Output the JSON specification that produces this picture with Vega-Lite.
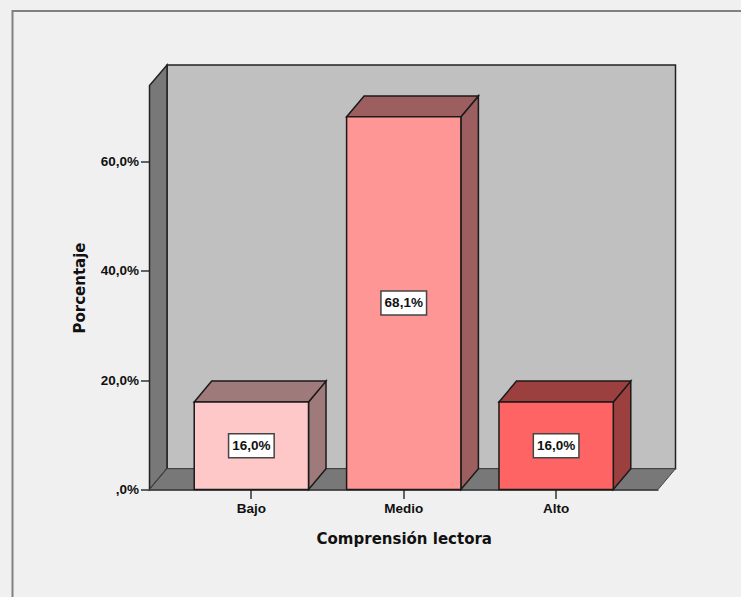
{
"$schema":"https://vega.github.io/schema/vega-lite/v6.json",
"width":508.5,"height":404,
"autosize":{"type":"none"},
"padding":{"left":149.5,"top":85.5,"right":83,"bottom":107.5},
"background":"#f0f0f0",
"view":{"stroke":null},
"config":{"axis":{"labelFont":"Liberation Sans","labelFontWeight":"bold","labelFontSize":13.5,"labelColor":"#111","titleFont":"DejaVu Sans","titleFontWeight":"bold","titleFontSize":15,"titleColor":"#111","grid":false,"domainColor":"#222","domainWidth":1.5,"tickColor":"#333","tickWidth":1.5,"tickSize":9,"zindex":1}},
"data":{"values":[{"cat":"Bajo","pct":16.0,"label":"16,0%"},{"cat":"Medio","pct":68.1,"label":"68,1%"},{"cat":"Alto","pct":16.0,"label":"16,0%"}]},
"encoding":{
"x":{"field":"cat","type":"nominal","sort":["Bajo","Medio","Alto"],"title":"Comprensión lectora","scale":{"paddingInner":0.25,"paddingOuter":0.2935,"round":false},"axis":{"labelAngle":0,"labelPadding":3,"titlePadding":16}},
"y":{"field":"pct","type":"quantitative","title":"Porcentaje","scale":{"domain":[0,73.8],"nice":false},"axis":{"values":[0,20,40,60],"labelExpr":"datum.value==0?',0%':datum.value+',0%'","labelPadding":2,"titlePadding":13}}
},
"layer":[
{"data":{"values":[{"cat":"Medio","pct":0}]},"mark":{"type":"point","size":4,"opacity":1,"filled":false,"stroke":"#808080","strokeWidth":2,"shape":"M-391.25 107.5V-478.5H337.25"}},
{"data":{"values":[{"cat":"Medio","pct":0}]},"mark":{"type":"point","size":4,"opacity":1,"filled":true,"fill":"#c0c0c0","stroke":"#222","strokeWidth":1.5,"shape":"M-236.75 -20.8V-424.5H271.75V-20.8Z"}},
{"data":{"values":[{"cat":"Medio","pct":0}]},"mark":{"type":"point","size":4,"opacity":1,"filled":true,"fill":"#787878","stroke":"#222","strokeWidth":1.5,"shape":"M-254.25 0V-404L-236.75 -424.5V-20.8Z"}},
{"data":{"values":[{"cat":"Medio","pct":0}]},"mark":{"type":"point","size":4,"opacity":1,"filled":true,"fill":"#787878","stroke":"#444","strokeWidth":1,"shape":"M-254.25 0L-236.75 -20.8H271.75L254.25 0Z"}},
{"mark":{"type":"point","size":4,"opacity":1,"filled":true,"stroke":"#1a1a1a","strokeWidth":1.5},"encoding":{
"shape":{"field":"cat","type":"nominal","legend":null,"scale":{"domain":["Bajo","Medio","Alto"],"range":["M57.15 0L74.65 -20.8V66.8L57.15 87.6Z","M57.15 0L74.65 -20.8V352L57.15 372.8Z","M57.15 0L74.65 -20.8V66.8L57.15 87.6Z"]}},
"fill":{"field":"cat","type":"nominal","legend":null,"scale":{"domain":["Bajo","Medio","Alto"],"range":["#9e7a7a","#9c5e5e","#9c3f3f"]}}}},
{"mark":{"type":"point","size":4,"opacity":1,"filled":true,"stroke":"#1a1a1a","strokeWidth":1.5,"shape":"M-57.15 0L57.15 0L74.65 -20.8H-39.65Z"},"encoding":{
"fill":{"field":"cat","type":"nominal","legend":null,"scale":{"domain":["Bajo","Medio","Alto"],"range":["#9e7a7a","#9c5e5e","#9c3f3f"]}}}},
{"mark":{"type":"bar","stroke":"#1a1a1a","strokeWidth":1.5},"encoding":{
"color":{"field":"cat","type":"nominal","legend":null,"scale":{"domain":["Bajo","Medio","Alto"],"range":["#ffc8c8","#ff9696","#ff6464"]}}}},
{"mark":{"type":"point","size":4,"opacity":1,"filled":true,"fill":"#ffffff","stroke":"#444","strokeWidth":1.5,"shape":"M-22.8 -12H22.8V12H-22.8Z"},"encoding":{"y":{"field":"pct","type":"quantitative","stack":"zero","bandPosition":0.5}}},
{"mark":{"type":"text","font":"Liberation Sans","fontWeight":"bold","fontSize":13.5,"color":"#111","baseline":"middle","align":"center"},"encoding":{"y":{"field":"pct","type":"quantitative","stack":"zero","bandPosition":0.5},"text":{"field":"label","type":"nominal"}}}
]
}
